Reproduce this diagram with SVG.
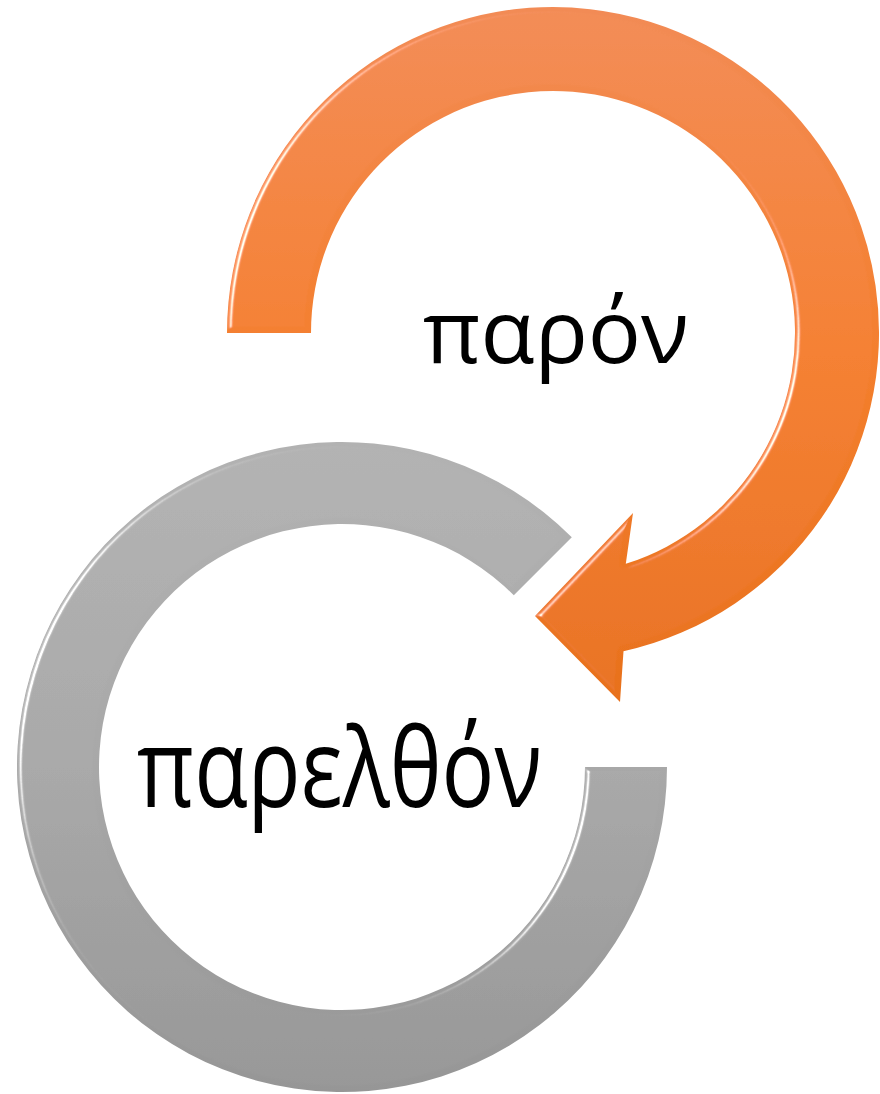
<svg xmlns="http://www.w3.org/2000/svg" width="880" height="1094" viewBox="0 0 880 1094">
  <defs>
    <linearGradient id="gOrange" x1="0" y1="7" x2="0" y2="702" gradientUnits="userSpaceOnUse">
      <stop offset="0" stop-color="#F28B55"/>
      <stop offset="0.5" stop-color="#F47F2E"/>
      <stop offset="1" stop-color="#E8711D"/>
    </linearGradient>
    <linearGradient id="gGray" x1="0" y1="442" x2="0" y2="1092" gradientUnits="userSpaceOnUse">
      <stop offset="0" stop-color="#B2B2B2"/>
      <stop offset="0.5" stop-color="#A8A8A8"/>
      <stop offset="1" stop-color="#969696"/>
    </linearGradient>
    <filter id="bevel" x="-5%" y="-5%" width="110%" height="110%">
      <feGaussianBlur in="SourceAlpha" stdDeviation="2.5" result="blur"/>
      <feSpecularLighting in="blur" surfaceScale="5" specularConstant="1" specularExponent="30" lighting-color="#ffffff" result="spec">
        <feDistantLight azimuth="200" elevation="25"/>
      </feSpecularLighting>
      <feComposite in="spec" in2="SourceAlpha" operator="in" result="specIn"/>
      <feComposite in="SourceGraphic" in2="specIn" operator="arithmetic" k1="0" k2="1" k3="0.9" k4="0"/>
    </filter>
    <style>
      .label { font-family: "Open Sans", "Noto Sans", "DejaVu Sans", sans-serif; fill: #000000; }
    </style>
  </defs>
  <rect width="880" height="1094" fill="#ffffff"/>
  <g id="connectors"/>
  <g id="past">
    <path d="M571.8,537.2 A325,325 0 1 0 667,767 L585,767 A243,243 0 1 1 513.8,595.2 Z" fill="url(#gGray)" filter="url(#bevel)"/>
    <text class="label" x="137" y="807" font-size="110" textLength="405" lengthAdjust="spacingAndGlyphs">παρελθόν</text>
  </g>
  <g id="present">
    <path d="M227,333 A326,326 0 1 1 623.5,651.3 L620,702 L535,616 L633,513 L625.8,563.8 A242,242 0 1 0 311,333 Z" fill="url(#gOrange)" filter="url(#bevel)"/>
    <text class="label" x="423" y="363" font-size="87" textLength="266" lengthAdjust="spacingAndGlyphs">παρόν</text>
  </g>
</svg>
